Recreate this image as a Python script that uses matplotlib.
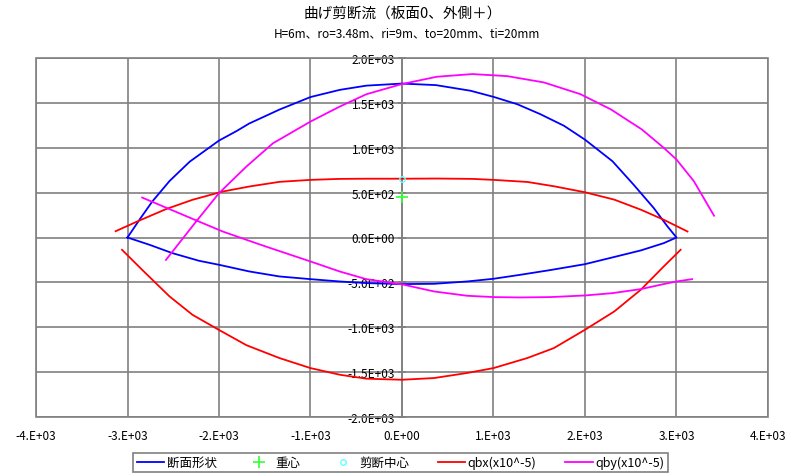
import numpy as np
import matplotlib
matplotlib.use('Agg')
import matplotlib.pyplot as plt
from matplotlib.patches import Rectangle

plt.rcParams['font.family'] = ['Noto Sans CJK JP', 'DejaVu Sans']

# 断面形状 : upper arc (left -> right), then lower arc (right -> left)
shape_x = [-3000, -2870, -2730, -2540, -2320, -2000, -1810, -1670, -1340, -1000, -680, -390, 0,
           370, 750, 1000, 1260, 1510, 1770, 2000, 2300, 2530, 2750, 2900, 3000,
           2860, 2610, 2300, 2000, 1620, 1290, 1000, 710, 350, 0,
           -390, -680, -1000, -1340, -1670, -2000, -2220, -2510, -2760, -3000]
shape_y = [0, 197, 400, 630, 845, 1080, 1185, 1270, 1425, 1565, 1645, 1692, 1715,
           1698, 1635, 1567, 1485, 1375, 1245, 1090, 850, 590, 330, 125, 0,
           -63, -144, -222, -297, -363, -416, -460, -490, -516, -519,
           -508, -490, -464, -434, -378, -304, -259, -174, -81, 0]

# 重心 / 剪断中心
centroid = (0, 450)
shear_center = (0, 650)

# qbx (x10^-5) : upper branch, gap, lower branch
qbx_x = [-3130, -2870, -2580, -2290, -1960, -1670, -1340, -1000, -680, -390, 0,
         380, 770, 1000, 1370, 1660, 2000, 2320, 2610, 2860, 3120,
         np.nan,
         -3060, -2840, -2540, -2290, -2000, -1700, -1340, -1000, -680, -390, 0,
         350, 710, 1000, 1370, 1660, 2000, 2320, 2610, 2860, 3045]
qbx_y = [70, 189, 316, 420, 512, 568, 620, 642, 653, 655, 655,
         657, 653, 642, 619, 571, 504, 422, 310, 198, 67,
         np.nan,
         -137, -360, -657, -861, -1030, -1200, -1343, -1455, -1529, -1573, -1585,
         -1566, -1510, -1455, -1343, -1232, -1028, -824, -582, -323, -137]

# qby (x10^-5) : upper branch, gap, lower branch
qby_x = [-2580, -2250, -2000, -1700, -1410, -1000, -680, -390, 0,
         380, 770, 1150, 1550, 1950, 2280, 2620, 2860, 3000, 3190, 3410,
         np.nan,
         -2840, -2540, -2220, -1960, -1700, -1490, -1000, -680, -390, 0,
         350, 710, 1000, 1290, 1620, 2000, 2300, 2610, 2860, 3000, 3170]
qby_y = [-250, 178, 494, 791, 1050, 1292, 1459, 1596, 1710,
         1791, 1821, 1798, 1728, 1597, 1429, 1205, 1000, 869, 627, 243,
         np.nan,
         445, 316, 178, 67, -26, -100, -267, -379, -464, -522,
         -601, -649, -664, -668, -664, -646, -620, -575, -519, -490, -464]

x_ticks = [-4000, -3000, -2000, -1000, 0, 1000, 2000, 3000, 4000]
x_labels = ['-4.E+03', '-3.E+03', '-2.E+03', '-1.E+03', '0.E+00',
            '1.E+03', '2.E+03', '3.E+03', '4.E+03']
y_ticks = [-2000, -1500, -1000, -500, 0, 500, 1000, 1500, 2000]
y_labels = ['-2.0E+03', '-1.5E+03', '-1.0E+03', '-5.0E+02', '0.0E+00',
            '5.0E+02', '1.0E+03', '1.5E+03', '2.0E+03']

grid_c = '#808080'

fig = plt.figure(figsize=(8.03, 4.77), dpi=100)
ax = fig.add_axes([36 / 803, 1 - 418 / 477, 732 / 803, 359 / 477])

ax.plot(shape_x, shape_y, color='#0000FF', lw=1.3, label='断面形状', zorder=3)
ax.plot([centroid[0]], [centroid[1]], '+', color='#33FF33', ms=8, mew=1.2,
        linestyle='none', label='重心', zorder=5)
ax.plot([shear_center[0]], [shear_center[1]], 'o', mfc='none', mec='#66FFFF',
        ms=4, mew=1.0, linestyle='none', label='剪断中心', zorder=5)
ax.plot(qbx_x, qbx_y, color='#FF0000', lw=1.3, label='qbx(x10^-5)', zorder=4)
ax.plot(qby_x, qby_y, color='#FF00FF', lw=1.3, label='qby(x10^-5)', zorder=4)

ax.set_xlim(-4000, 4000)
ax.set_ylim(-2000, 2000)
ax.set_xticks(x_ticks)
ax.set_xticklabels(x_labels)
ax.set_yticks(y_ticks)
ax.set_yticklabels(y_labels)

ax.grid(True, color=grid_c, lw=1.2)
ax.set_axisbelow(True)

for s in ['top', 'right', 'bottom']:
    ax.spines[s].set_visible(False)
ax.spines['left'].set_position(('data', 0))
ax.spines['left'].set_color(grid_c)
ax.spines['left'].set_linewidth(1.2)
ax.add_patch(Rectangle((0, 0), 1, 1, transform=ax.transAxes, fill=False,
                       edgecolor=grid_c, lw=1.2, clip_on=False, zorder=2))

ax.tick_params(axis='x', length=0, pad=9, labelsize=8.5)
ax.tick_params(axis='y', direction='inout', length=6, width=1.2, color=grid_c,
               pad=2, labelsize=8.5)

fig.text(0.502, 1 - 14 / 477, '曲げ剪断流（板面0、外側＋）', ha='center', va='center',
         fontsize=10.5)
fig.text(0.507, 1 - 34 / 477, 'H=6m、ro=3.48m、ri=9m、to=20mm、ti=20mm',
         ha='center', va='center', fontsize=8.5)

leg = fig.legend(loc='center', bbox_to_anchor=(400.5 / 803, 1 - 463.5 / 477),
                 ncol=5, fontsize=9, frameon=True, fancybox=False,
                 edgecolor='#808080', framealpha=1, handlelength=2.2,
                 handletextpad=0.2, columnspacing=2.3, borderpad=0.25)
leg.get_frame().set_linewidth(1.2)

fig.savefig('out.png', dpi=100)
